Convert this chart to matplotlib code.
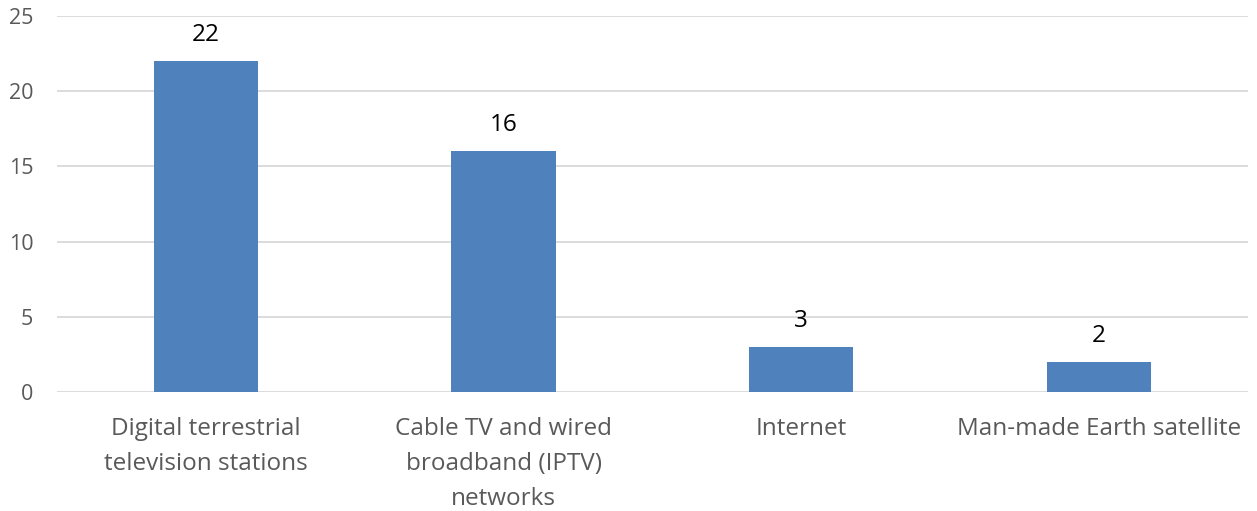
import matplotlib.pyplot as plt

categories = ["Digital terrestrial\ntelevision stations",
              "Cable TV and wired\nbroadband (IPTV)\nnetworks",
              "Internet",
              "Man-made Earth satellite"]
values = [22, 16, 3, 2]
y_ticks = [0, 5, 10, 15, 20, 25]

plt.rcParams['font.family'] = ['Open Sans', 'DejaVu Sans']

fig = plt.figure(figsize=(12.57, 5.11), dpi=100)
ax = fig.add_axes([0.0453, 0.2329, 0.9475, 0.7358])

x = list(range(len(categories)))
bars = ax.bar(x, values, width=0.35, color='#4f81bd', zorder=3)
for b, v in zip(bars, values):
    ax.annotate(str(v), (b.get_x() + b.get_width() / 2, v),
                xytext=(0, 10), textcoords='offset points',
                ha='center', va='bottom', fontsize=17.5, color='black')

ax.set_xlim(-0.5, len(categories) - 0.5)
ax.set_ylim(0, 25)
ax.set_yticks(y_ticks)
ax.set_xticks(x)
ax.set_xticklabels(categories, fontsize=17.5, color='#595959', linespacing=1.6)
ax.tick_params(axis='y', labelsize=15.5, labelcolor='#595959', length=0, pad=17)
ax.tick_params(axis='x', length=0, pad=18)
ax.grid(axis='y', color='#d9d9d9', linewidth=1.3, zorder=0)
for s in ax.spines.values():
    s.set_visible(False)

fig.savefig('out.png', dpi=100)
